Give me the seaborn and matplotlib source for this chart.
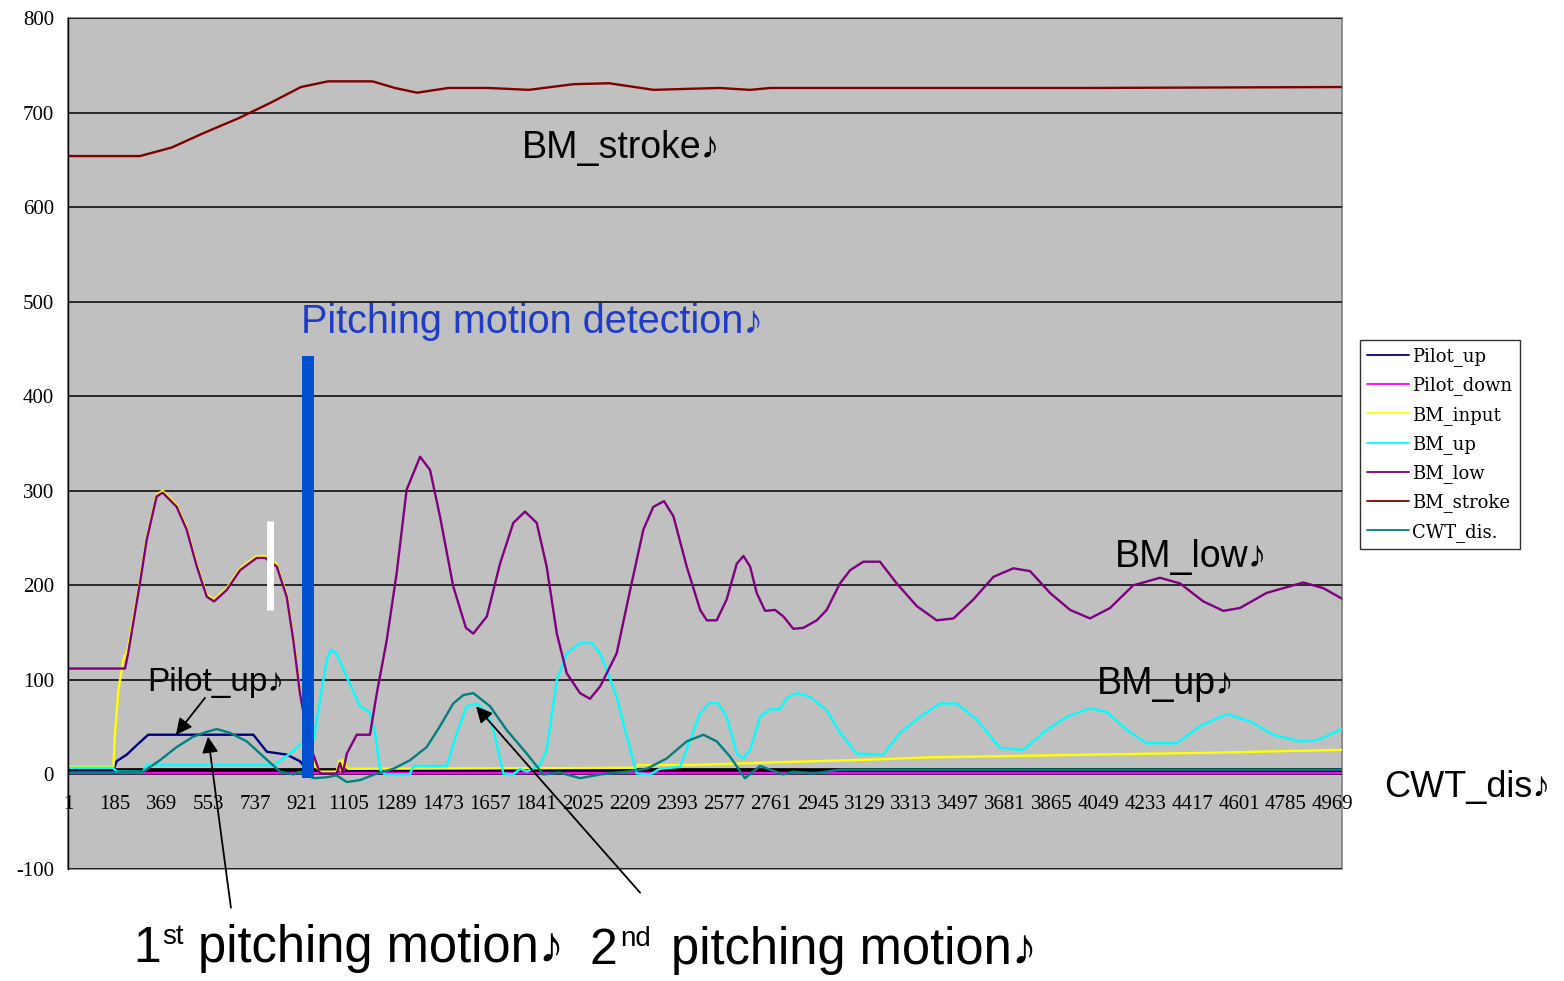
import matplotlib
matplotlib.use("Agg")
import matplotlib.pyplot as plt
import pandas as pd
import seaborn as sns
from matplotlib.lines import Line2D

# --- data (sample index, value) ---
PILOT_UP_X = [1, 178, 192, 232, 271, 316, 729, 782, 860, 912, 940, 960, 5004]
PILOT_UP_Y = [3, 3, 14, 21, 31, 42, 42, 24, 21, 14, 5, 2, 2]

PILOT_DOWN_X = [1, 5004]
PILOT_DOWN_Y = [1, 1]

BM_INPUT_X = [1, 179, 185, 199, 218, 235, 284, 310, 349, 373, 428, 467, 507, 546,
              575, 624, 677, 742, 775, 821, 860, 886, 912, 945, 970, 991, 1056,
              1066, 1072, 1078, 1085, 1092, 1100, 1150, 2230, 2240, 2456, 2800,
              3190, 3374, 4027, 4500, 5004]
BM_INPUT_Y = [8, 8, 40, 89, 121, 132, 205, 250, 296, 300, 285, 261, 222, 190,
              185, 197, 218, 231, 231, 222, 190, 144, 88, 38, 10, 3, 3,
              14, 4, 16, 5, 12, 6, 6, 7, 10, 10, 13,
              16, 18, 21, 23, 26]

BM_UP_X = [1, 178, 192, 295, 310, 806, 821, 873, 919, 965, 991, 1017, 1033, 1056,
           1096, 1148, 1187, 1207, 1227, 1246, 1344, 1356, 1489, 1528, 1567, 1606,
           1646, 1672, 1711, 1750, 1776, 1803, 1855, 1881, 1921, 1960, 2012, 2058,
           2091, 2117, 2156, 2196, 2235, 2287, 2326, 2405, 2444, 2484, 2523, 2555,
           2588, 2628, 2654, 2680, 2719, 2758, 2798, 2824, 2863, 2916, 2981, 3033,
           3099, 3203, 3269, 3348, 3426, 3492, 3570, 3662, 3753, 3845, 3924, 4015,
           4081, 4160, 4238, 4356, 4447, 4552, 4644, 4735, 4840, 4906, 5004]
BM_UP_Y = [7, 7, 3, 3, 10, 10, 12, 22, 33, 36, 79, 121, 132, 128,
           103, 72, 66, 44, 5, 0, 0, 9, 9, 44, 72, 75,
           66, 47, 1, 0, 6, 3, 10, 26, 100, 128, 139, 139,
           128, 111, 82, 40, 1, 0, 6, 8, 36, 65, 76, 75,
           61, 22, 17, 26, 61, 69, 69, 81, 86, 82, 68, 44,
           22, 21, 44, 61, 75, 75, 58, 28, 26, 47, 61, 70,
           66, 47, 33, 33, 51, 64, 56, 42, 35, 36, 48]

BM_LOW_X = [1, 225, 237, 284, 310, 349, 373, 428, 467, 507, 546, 575, 624, 677,
            742, 775, 821, 860, 886, 912, 945, 991, 1056, 1069, 1081, 1096, 1135,
            1187, 1214, 1253, 1292, 1331, 1384, 1423, 1462, 1514, 1564, 1593, 1646,
            1698, 1750, 1796, 1842, 1881, 1921, 1960, 2012, 2051, 2091, 2156, 2209,
            2261, 2300, 2342, 2379, 2431, 2484, 2510, 2549, 2588, 2628, 2654, 2680,
            2706, 2739, 2778, 2811, 2850, 2889, 2942, 2981, 3033, 3073, 3125, 3190,
            3256, 3335, 3413, 3479, 3557, 3636, 3714, 3780, 3858, 3937, 4015, 4094,
            4185, 4290, 4369, 4460, 4539, 4604, 4709, 4853, 4932, 5004]
BM_LOW_Y = [112, 112, 128, 203, 248, 294, 298, 283, 259, 220, 188, 183, 195, 216,
            229, 229, 220, 188, 142, 86, 36, 1, 1, 12, 2, 22, 42,
            42, 86, 142, 213, 301, 336, 322, 273, 199, 155, 149, 167,
            223, 266, 278, 266, 220, 149, 107, 86, 80, 93, 128, 195,
            259, 283, 289, 273, 220, 174, 163, 163, 185, 223, 231, 220,
            192, 173, 174, 167, 154, 155, 163, 174, 202, 216, 225, 225,
            202, 178, 163, 165, 185, 209, 218, 215, 192, 174, 165, 176,
            200, 208, 202, 183, 173, 176, 192, 203, 197, 186]

BM_STROKE_X = [1, 284, 408, 531, 671, 794, 916, 1022, 1197, 1285, 1372, 1495,
               1653, 1811, 1986, 2126, 2302, 2425, 2560, 2680, 2760, 3200, 4000,
               5004]
BM_STROKE_Y = [654, 654, 663, 678, 694, 710, 727, 733, 733, 726, 721, 726,
               726, 724, 730, 731, 724, 725, 726, 724, 726, 726, 726,
               727]

CWT_X = [1, 178, 297, 362, 428, 493, 546, 585, 637, 703, 768, 834, 886, 912,
         965, 1017, 1056, 1096, 1148, 1214, 1279, 1344, 1410, 1462, 1514, 1554,
         1593, 1659, 1724, 1803, 1868, 1933, 2012, 2091, 2196, 2274, 2353, 2431,
         2497, 2549, 2601, 2660, 2719, 2811, 2850, 2928, 3033, 5004]
CWT_Y = [2, 2, 3, 15, 29, 40, 45, 48, 44, 35, 19, 3, 0, 3,
         -4, -3, -1, -8, -6, 1, 6, 15, 29, 51, 75, 84,
         86, 72, 47, 22, 0, 2, -4, 0, 3, 6, 17, 35,
         42, 35, 19, -4, 9, 0, 3, 1, 5, 5]

SERIES = ["Pilot_up", "Pilot_down", "BM_input", "BM_up", "BM_low", "BM_stroke", "CWT_dis."]
COLORS = ["#000080", "#ff00ff", "#ffff00", "#00ffff", "#800080", "#800000", "#008080"]

X_TICKS = [1, 185, 369, 553, 737, 921, 1105, 1289, 1473, 1657, 1841, 2025, 2209, 2393,
           2577, 2761, 2945, 3129, 3313, 3497, 3681, 3865, 4049, 4233, 4417, 4601,
           4785, 4969]
Y_TICKS = [-100, 0, 100, 200, 300, 400, 500, 600, 700, 800]

BASELINE_LEVEL = 5
DETECT_SAMPLE, DETECT_RANGE = 944, (-4, 443)
MARK_SAMPLE, MARK_RANGE = 796, (174, 268)

NOTE = "\u266a"
SANS = ["Liberation Sans", "DejaVu Sans"]

sns.set_theme(style="white")
plt.rcParams["axes.unicode_minus"] = False
plt.rcParams["font.family"] = SANS
plt.rcParams["text.color"] = "black"
plt.rcParams["xtick.color"] = "black"
plt.rcParams["ytick.color"] = "black"

fig = plt.figure(figsize=(15.64, 9.81), dpi=100)
ax = fig.add_axes([68 / 1564, 1 - 869 / 981, 1274 / 1564, 851 / 981])
ax.set_facecolor("#c0c0c0")
ax.patch.set_edgecolor("#808080")
ax.patch.set_linewidth(1.2)

# spines first: moving a spine resets the tick labels
for side in ["top", "right"]:
    ax.spines[side].set_visible(False)
ax.spines["bottom"].set_position(("data", 0))
ax.spines["bottom"].set_color("none")
ax.spines["left"].set_color("black")
ax.spines["left"].set_linewidth(1.0)

frames = []
data = {
    "Pilot_up": (PILOT_UP_X, PILOT_UP_Y),
    "Pilot_down": (PILOT_DOWN_X, PILOT_DOWN_Y),
    "BM_input": (BM_INPUT_X, BM_INPUT_Y),
    "BM_up": (BM_UP_X, BM_UP_Y),
    "BM_low": (BM_LOW_X, BM_LOW_Y),
    "BM_stroke": (BM_STROKE_X, BM_STROKE_Y),
    "CWT_dis.": (CWT_X, CWT_Y),
}
for name, (xs, ys) in data.items():
    frames.append(pd.DataFrame({"sample": xs, "value": ys, "series": name}))
df = pd.concat(frames, ignore_index=True)

ax.axhline(BASELINE_LEVEL, color="black", linewidth=3.4, zorder=1.5)
sns.lineplot(data=df, x="sample", y="value", hue="series", hue_order=SERIES,
             palette=dict(zip(SERIES, COLORS)), estimator=None, sort=False,
             legend=False, linewidth=1.7, ax=ax, zorder=2)

# annotation bars
ax.plot([DETECT_SAMPLE, DETECT_SAMPLE], DETECT_RANGE, color="#0050d0",
        linewidth=8.6, solid_capstyle="butt", zorder=4)
ax.plot([MARK_SAMPLE, MARK_SAMPLE], MARK_RANGE, color="white",
        linewidth=5, solid_capstyle="butt", zorder=4)

ax.set_xlim(1, 5005)
ax.set_ylim(-100, 800)
ax.set_xticks(X_TICKS)
ax.set_xticklabels([str(t) for t in X_TICKS], family="Liberation Serif", fontsize=15)
ax.set_yticks(Y_TICKS)
ax.set_yticklabels([str(t) for t in Y_TICKS], family="Liberation Serif", fontsize=15)
ax.yaxis.grid(True, color="black", linewidth=1.1)
ax.xaxis.grid(False)
ax.set_axisbelow(True)
ax.set_xlabel("")
ax.set_ylabel("")
ax.tick_params(axis="x", length=0, pad=15)
ax.tick_params(axis="y", length=4, width=1, color="black", direction="out", pad=6)

# text labels
ax.text(916, 478, "Pitching motion detection" + NOTE, color="#1e3cc8",
        fontsize=28.5, va="center", ha="left", family=SANS)
ax.text(1784, 663, "BM_stroke" + NOTE, fontsize=27, va="center", family=SANS)
ax.text(4113, 230, "BM_low" + NOTE, fontsize=27, va="center", family=SANS)
ax.text(4043, 96, "BM_up" + NOTE, fontsize=27, va="center", family=SANS)
ax.text(311, 97, "Pilot_up" + NOTE, fontsize=24, va="center", family=SANS)
fig.text(1384 / 1564, 1 - 787 / 981, "CWT_dis" + NOTE, fontsize=26, va="center",
         family=SANS)

arrow = dict(arrowstyle="-|>", mutation_scale=24, lw=1.3, color="black",
             shrinkA=0, shrinkB=0)
ax.annotate("", xy=(425, 42), xytext=(539, 81), arrowprops=arrow, annotation_clip=False)
ax.annotate("", xy=(551, 40), xytext=(641, -141), arrowprops=arrow, annotation_clip=False)
ax.annotate("", xy=(1604, 72), xytext=(2248, -125), arrowprops=arrow, annotation_clip=False)

# bottom caption with superscripts
fig.text(133 / 1564, 1 - 962 / 981, "1", fontsize=36, va="baseline", family=SANS)
fig.text(162 / 1564, 1 - 944 / 981, "st", fontsize=20, va="baseline", family=SANS)
fig.text(198 / 1564, 1 - 962 / 981, "pitching motion" + NOTE, fontsize=36.5,
         va="baseline", family=SANS)
fig.text(590 / 1564, 1 - 964 / 981, "2", fontsize=36, va="baseline", family=SANS)
fig.text(620 / 1564, 1 - 946 / 981, "nd", fontsize=20, va="baseline", family=SANS)
fig.text(671 / 1564, 1 - 964 / 981, "pitching motion" + NOTE, fontsize=36.5,
         va="baseline", family=SANS)

handles = [Line2D([], [], color=c, linewidth=1.3) for c in COLORS]
leg = fig.legend(handles, SERIES, loc="upper left",
                 bbox_to_anchor=(1360 / 1564, 1 - 340 / 981),
                 prop={"family": "DejaVu Serif", "size": 13},
                 frameon=True, fancybox=False, borderaxespad=0, borderpad=0.4,
                 handlelength=2.3, handletextpad=0.2, labelspacing=0.57)
leg.get_frame().set_edgecolor("black")
leg.get_frame().set_linewidth(1.0)
leg.get_frame().set_facecolor("white")

fig.savefig("out.png", dpi=100, facecolor="white")
